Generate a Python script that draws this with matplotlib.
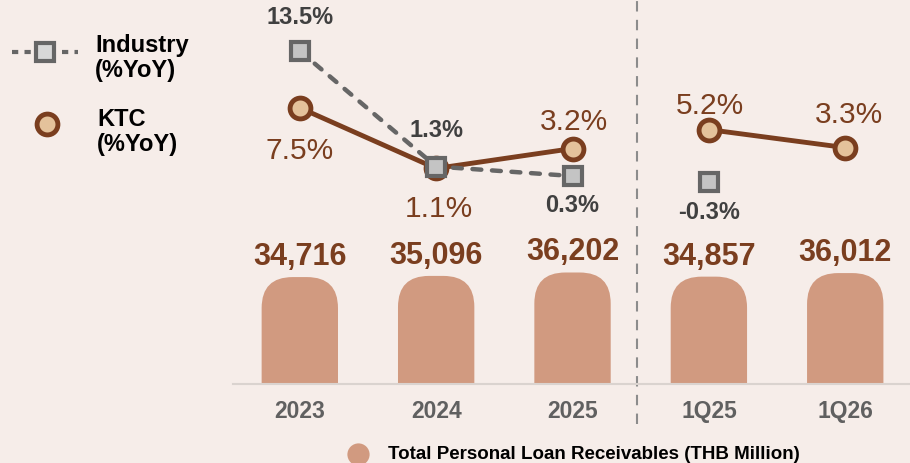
import numpy as np
import matplotlib.pyplot as plt
from matplotlib.patches import FancyBboxPatch
from matplotlib.lines import Line2D
from matplotlib.transforms import IdentityTransform

plt.rcParams['font.family'] = ['Liberation Sans', 'DejaVu Sans']

# data
periods = ['2023', '2024', '2025', '1Q25', '1Q26']
loans = [34716, 35096, 36202, 34857, 36012]
industry_yoy = [13.5, 1.3, 0.3, -0.3]
ktc_yoy = [7.5, 1.1, 3.2, 5.2, 3.3]

# colours
bg = '#f6ede9'
bar_col = '#d19a80'
brown = '#7a3e1f'
circ_fill = '#e4c29b'
sq_edge = '#666666'
sq_fill = '#c4c4c4'
ind_txt = '#404040'

W, H = 910, 464
fig = plt.figure(figsize=(9.1, 4.64), dpi=100, facecolor=bg)

# bar axes: baseline at y=385px, spans to top
ax = fig.add_axes([233 / W, 1 - 385 / H, 677 / W, 385 / H])
ax.set_facecolor('none')
ax.set_xlim(-0.49, 4.475)
ax.set_ylim(0, 125000)

# rounded-top bars, drawn in pixel space so the corners stay circular
bw = 0.56
for i, v in enumerate(loans):
    x0, y0 = ax.transData.transform((i - bw / 2, 0))
    x1, y1 = ax.transData.transform((i + bw / 2, v))
    p = FancyBboxPatch((x0, y0 - 60), x1 - x0, y1 - y0 + 60,
                       boxstyle="round,pad=0,rounding_size=31",
                       fc=bar_col, ec='none', transform=IdentityTransform())
    ax.add_artist(p)
    ax.annotate(f"{v:,}", (i, v), xytext=(0, 6), textcoords='offset pixels',
                ha='center', va='bottom', fontsize=22, fontweight='bold', color=brown)

for s in ['top', 'right', 'left']:
    ax.spines[s].set_visible(False)
ax.spines['bottom'].set_color('#dad3cf')
ax.spines['bottom'].set_linewidth(1.5)
ax.set_yticks([])
ax.set_xticks(range(len(periods)), periods)
ax.tick_params(axis='x', length=0, pad=11, labelsize=16.5, labelcolor='#606060')
for t in ax.get_xticklabels():
    t.set_fontweight('bold')

ax.axvline(2.475, ymin=-0.104, ymax=1, clip_on=False, color='#8c8c8c',
           lw=1.5, dashes=(5, 4))

# line axes
ax2 = ax.twinx()
ax2.set_ylim(-21.66, 18.99)
ax2.axis('off')

ax2.plot(range(3), ktc_yoy[:3], color=brown, lw=3.5, zorder=3)
ax2.plot([3, 4], ktc_yoy[3:], color=brown, lw=3.5, zorder=3)
ax2.plot(range(5), ktc_yoy, ls='none', marker='o', ms=15, mfc=circ_fill,
         mec=brown, mew=3.5, zorder=4)
ax2.plot(range(3), industry_yoy[:3], color=sq_edge, lw=3.2, dashes=(2.0, 2.4),
         dash_capstyle='round', zorder=5)
ax2.plot(range(4), industry_yoy, ls='none', marker='s', ms=13, mfc=sq_fill,
         mec=sq_edge, mew=3, zorder=6)

ind_off = [34, 37, -28, -30]
for i, (v, o) in enumerate(zip(industry_yoy, ind_off)):
    ax2.annotate(f"{v:.1f}%", (i, v), xytext=(0, o), textcoords='offset pixels',
                 ha='center', va='center', fontsize=17, fontweight='bold', color=ind_txt)
ktc_off = [(0, -42), (3, -40), (1, 28), (1, 25), (4, 34)]
for i, (v, o) in enumerate(zip(ktc_yoy, ktc_off)):
    ax2.annotate(f"{v:.1f}%", (i, v), xytext=o, textcoords='offset pixels',
                 ha='center', va='center', fontsize=21.5, color=brown)

# legend (left)
ft = fig.transFigure
fig.add_artist(Line2D([12 / W, 78 / W], [1 - 53 / H] * 2, transform=ft, color=sq_edge,
                      lw=3, dashes=(1.5, 1.5)))
fig.add_artist(Line2D([45 / W], [1 - 53 / H], transform=ft, marker='s', ms=13,
                      mfc='#d8d8d8', mec=sq_edge, mew=3))
fig.text(95 / W, 1 - 58 / H, "Industry\n(%YoY)", ha='left', va='center',
         fontsize=17, fontweight='bold', color='black', linespacing=1.1)
fig.add_artist(Line2D([47 / W], [1 - 125 / H], transform=ft, marker='o', ms=15,
                      mfc=circ_fill, mec=brown, mew=3.5))
fig.text(97 / W, 1 - 132 / H, "KTC\n(%YoY)", ha='left', va='center',
         fontsize=17, fontweight='bold', color='black', linespacing=1.1)

# legend (bottom)
fig.add_artist(Line2D([358 / W], [1 - 455 / H], transform=ft, marker='o', ms=16,
                      mfc=bar_col, mec='none'))
fig.text(388 / W, 1 - 455 / H, "Total Personal Loan Receivables (THB Million)",
         ha='left', va='center', fontsize=13.5, fontweight='bold', color='black')

fig.savefig('out.png', dpi=100, facecolor=bg)
